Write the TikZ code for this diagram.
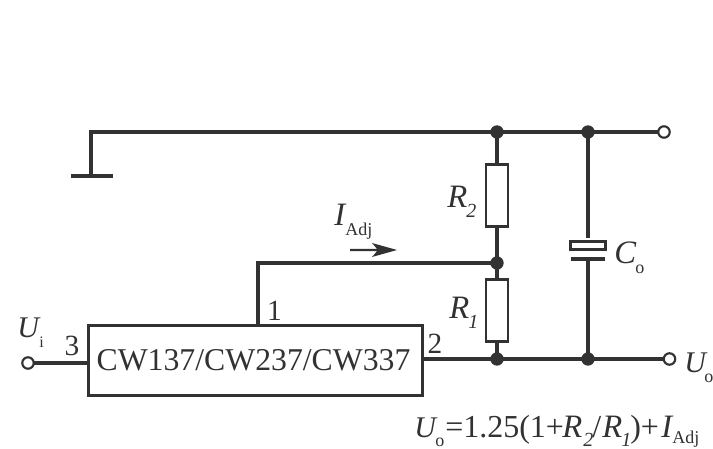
\documentclass[tikz,border=0pt]{standalone}
\usepackage{fontspec}
\setmainfont{Liberation Serif}
\definecolor{ink}{RGB}{50,50,50}
\newcommand{\pxfont}[1]{\fontsize{#1}{#1}\selectfont}
\tikzset{
  conn/.style={color=ink,line width=2.5pt},
  dotn/.style={circle,fill=ink,draw=none,minimum size=10pt,inner sep=0pt},
  opn/.style={circle,draw=ink,fill=white,line width=1.6pt,minimum size=8.6pt,inner sep=0pt},
  resbox/.style={rectangle,draw=ink,fill=white,line width=2.1pt,minimum width=16.5pt,minimum height=47pt,inner sep=0pt},
  lab/.style={text=ink,inner sep=0pt,anchor=base west,font=\pxfont{24}},
  pin/.style={text=ink,inner sep=0pt,anchor=base,font=\pxfont{22}},
  sym/.style={text=ink,inner sep=0pt,anchor=base west,font=\pxfont{24.5}\itshape},
  symu/.style={text=ink,inner sep=0pt,anchor=base west,font=\pxfont{22.5}\itshape},
  sub/.style={text=ink,inner sep=0pt,anchor=base west,font=\pxfont{13.5}},
  subd/.style={text=ink,inner sep=0pt,anchor=base west,font=\pxfont{15}\itshape}
}
\begin{document}
\begin{tikzpicture}[x=0.75pt,y=-0.75pt]
\useasboundingbox[fill=white] (0,0) rectangle (713,449);
% connectors first, so that nodes sit on top
\coordinate (jj1) at (497,132);
\coordinate (jj2) at (588,132);
\coordinate (jj3) at (497,263);
\coordinate (jj4) at (497,359);
\coordinate (jj5) at (588,359);
\coordinate (oa) at (664,132);
\coordinate (ob) at (669.5,359);
\coordinate (ii) at (28,363);
\coordinate (cb) at (588,259);
\coordinate (cl) at (571,259);
\coordinate (cr) at (605,259);
\coordinate (g) at (91,176);
\coordinate (gl) at (71,176);
\coordinate (gr) at (113,176);
\coordinate (c1) at (91,132);
\coordinate (t1) at (258,263);
\coordinate (t2) at (258,325);
\coordinate (ic3) at (88,363);
\coordinate (ic2) at (423,359);
\draw[conn] (g) -- (c1) -- (jj1) -- (jj2) -- (oa);
\draw[conn] (gl) -- (gr);
\draw[conn] (jj1) -- (jj3) -- (jj4);
\draw[conn] (t2) -- (t1) -- (jj3);
\draw[conn] (ii) -- (ic3);
\draw[conn] (ic2) -- (jj4) -- (jj5) -- (ob);
\draw[conn] (jj2) -- (jj5);
% nodes
\node[rectangle,draw=ink,fill=white,line width=2.1pt,minimum width=250pt,minimum height=52pt,inner sep=0pt,text=ink,font=\pxfont{23.8}] (ic) at (255.5,360.5) {\hspace*{-3pt}\raisebox{-1pt}{CW137/CW237/CW337}};
\node[opn] (in) at (ii) {};
\node[opn] (outa) at (oa) {};
\node[opn] (outb) at (ob) {};
\node[dotn] (j1) at (jj1) {};
\node[dotn] (j2) at (jj2) {};
\node[dotn] (j3) at (jj3) {};
\node[dotn] (j4) at (jj4) {};
\node[dotn] (j5) at (jj5) {};
\node[resbox] (r2) at (497,195.5) {};
\node[resbox] (r1) at (497,310.5) {};
\fill[white] (570,238) rectangle (606,258);
\node[rectangle,draw=ink,fill=white,line width=2.1pt,minimum width=26pt,minimum height=6.5pt,inner sep=0pt] (cp) at (588,245.5) {};
\draw[conn] (cl) -- (cr);
\fill[ink] (350,248.8) -- (377,248.8) -- (372,243) -- (397,250) -- (372,257) -- (377,251.2) -- (350,251.2) -- cycle;
% labels
\node[pin] (p1) at (274.5,320) {1};
\node[pin] (p2) at (435,353) {2};
\node[pin] (p3) at (72,355) {3};
\node[symu] (ui) at (17,337) {U};
\node[sub,font=\pxfont{12}] (uis) at (39,347) {i};
\node[sym] (iadj) at (334,225) {I};
\node[sub] (iadjs) at (345,235) {Adj};
\node[sym] (r2l) at (447,207) {R};
\node[subd] (r2s) at (466,217) {2};
\node[sym] (r1l) at (449,318) {R};
\node[subd] (r1s) at (468,328) {1};
\node[sym] (col) at (614,263) {C};
\node[sub] (cos) at (635,273) {o};
\node[symu] (uo) at (684,372) {U};
\node[sub] (uos) at (704,382) {o};
\node[symu] (eu) at (414,437) {U};
\node[sub] (eqs) at (435,446) {o};
\node[lab] (eq) at (445,437) {=1.25(1+};
\node[sym] (er2) at (562,437) {R};
\node[subd] (eqr2) at (583,446) {2};
\node[lab] (es) at (592,437) {/};
\node[sym] (er1) at (602,437) {R};
\node[subd] (eqr1) at (621,446) {1};
\node[lab] (ep) at (630,437) {)+};
\node[sym] (ei) at (661,437) {I};
\node[sub] (eqi) at (672,443) {Adj};
\end{tikzpicture}
\end{document}
